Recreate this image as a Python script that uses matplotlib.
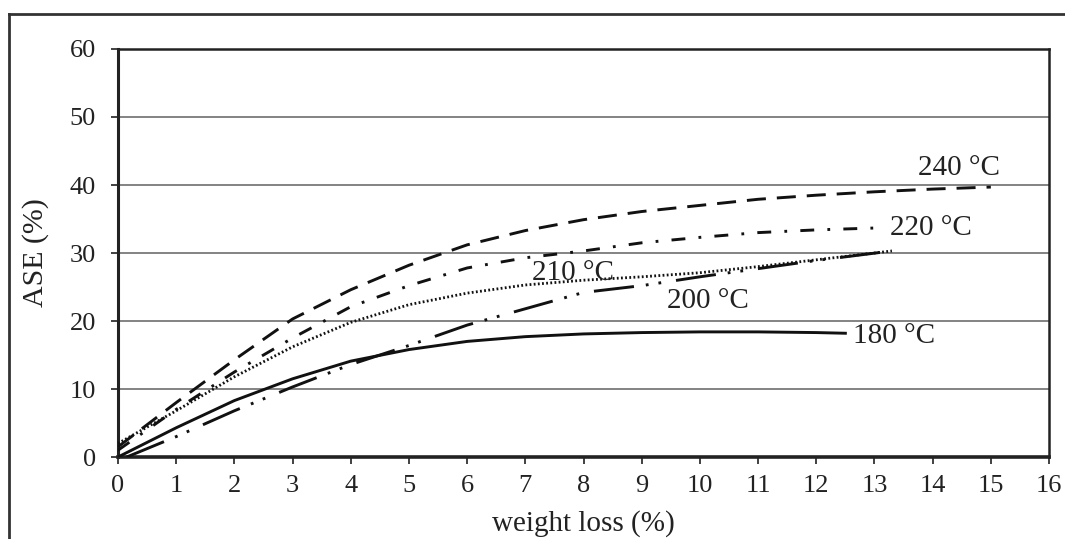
import numpy as np
import matplotlib.pyplot as plt
from matplotlib.lines import Line2D

plt.rcParams['font.family'] = ['Liberation Serif', 'DejaVu Serif']
plt.rcParams['lines.scale_dashes'] = False

# ASE vs weight loss for each treatment temperature
x_240 = [0, 1, 2, 3, 4, 5, 6, 7, 8, 9, 10, 11, 12, 13, 14, 15]
y_240 = [1.5, 8.0, 14.3, 20.3, 24.6, 28.2, 31.2, 33.3, 34.9, 36.1, 37.0, 37.9, 38.5, 39.0, 39.4, 39.7]

x_220 = [0, 1, 2, 3, 4, 5, 6, 7, 8, 9, 10, 11, 12, 13.1]
y_220 = [1.0, 7.0, 12.5, 17.5, 22.1, 25.2, 27.8, 29.3, 30.3, 31.5, 32.3, 33.0, 33.4, 33.7]

x_210 = [0, 1, 2, 3, 4, 5, 6, 7, 8, 9, 10, 11, 12, 13.3]
y_210 = [2.0, 6.8, 11.8, 16.2, 19.8, 22.4, 24.1, 25.3, 26.0, 26.5, 27.1, 28.0, 29.0, 30.3]

x_200 = [0.15, 1, 2, 3, 4, 5, 6, 7, 8, 9, 10, 11, 12, 13.3]
y_200 = [0, 3.0, 6.8, 10.3, 13.6, 16.4, 19.4, 21.8, 24.2, 25.2, 26.5, 27.7, 28.9, 30.3]

x_180 = [0, 1, 2, 3, 4, 5, 6, 7, 8, 9, 10, 11, 12, 12.5]
y_180 = [0, 4.3, 8.3, 11.5, 14.1, 15.8, 17.0, 17.7, 18.1, 18.3, 18.4, 18.4, 18.3, 18.2]

labels = ['240 °C', '220 °C', '210 °C', '200 °C', '180 °C']
label_x = [13.75, 13.26, 7.11, 9.43, 12.63]
label_y = [41.5, 32.6, 26.0, 21.9, 16.8]

fig = plt.figure(figsize=(10.65, 5.39), dpi=100)
ax = fig.add_axes([0.1108, 0.1521, 0.8742, 0.7570])

for y in [10, 20, 30, 40, 50]:
    ax.axhline(y, color='#7a7a7a', lw=1.3, zorder=1)

ink = '#111111'
ax.plot(x_240, y_240, color=ink, lw=2.1, dashes=(13.7, 7.9), zorder=3)
ax.plot(x_220, y_220, color=ink, lw=2.1, dashes=(10, 9.5, 2, 9.5), zorder=3)
ax.plot(x_210, y_210, color=ink, lw=2.0, dashes=(1.3, 1.7), zorder=3)
ax.plot(x_200, y_200, color=ink, lw=2.1, dashes=(29, 8.6, 2, 7.2, 2, 10.8), zorder=3)
ax.plot(x_180, y_180, color=ink, lw=2.1, zorder=3)

for t, tx, ty in zip(labels, label_x, label_y):
    ax.text(tx, ty, t, fontsize=21, color='#222222', ha='left', va='baseline', zorder=4)

ax.set_xlim(0, 16)
ax.set_ylim(0, 60)
ax.set_xticks(range(0, 17))
ax.set_yticks(range(0, 61, 10))
ax.tick_params(axis='both', direction='out', length=5, width=1.3, color='#333333',
               labelsize=19, labelcolor='#222222')
ax.tick_params(axis='y', pad=11)
ax.tick_params(axis='x', pad=8)

ax.spines['left'].set_linewidth(2.2)
ax.spines['bottom'].set_linewidth(2.6)
ax.spines['top'].set_linewidth(1.8)
ax.spines['right'].set_linewidth(1.8)
for s in ax.spines.values():
    s.set_color('#222222')

ax.set_xlabel('weight loss (%)', fontsize=21, color='#222222', labelpad=9)
ax.set_ylabel('ASE (%)', fontsize=21.5, color='#222222', labelpad=15)

# outer frame around the figure
fig.add_artist(Line2D([9 / 1065, 1.0], [1 - 14 / 539, 1 - 14 / 539],
                      transform=fig.transFigure, color='#333333', lw=2.0))
fig.add_artist(Line2D([9 / 1065, 9 / 1065], [0.0, 1 - 14 / 539],
                      transform=fig.transFigure, color='#333333', lw=2.0))

fig.savefig('out.png', dpi=100)
